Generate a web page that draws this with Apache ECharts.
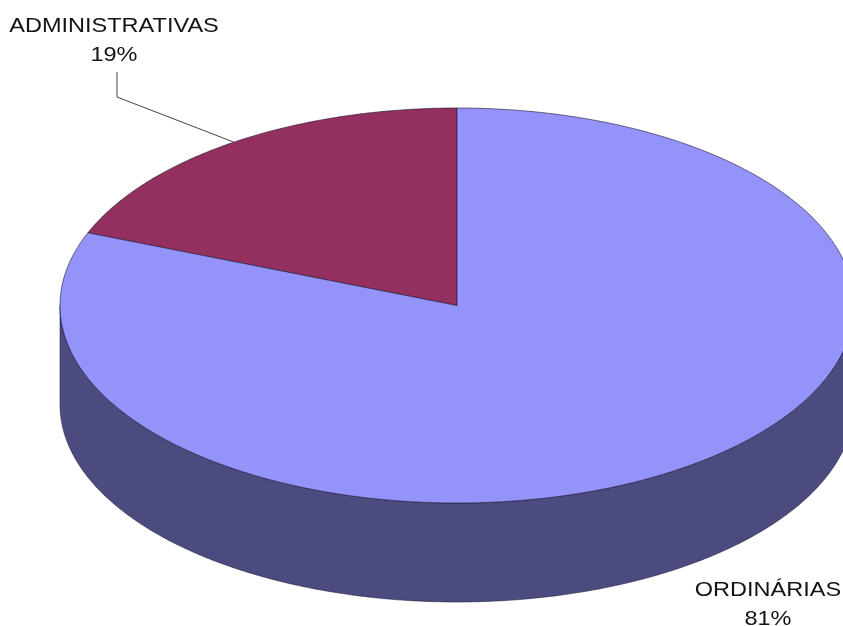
<!DOCTYPE html>
<html><head><meta charset="utf-8">
<script src="https://cdn.jsdelivr.net/npm/echarts@6/dist/echarts.min.js"></script>
<style>html,body{margin:0;padding:0;background:#fff}#c{width:843px;height:626px}</style>
</head><body><div id="c"></div>
<script>
// ---- data ----
const categories = ['ADMINISTRATIVAS', 'ORDINÁRIAS'];
const values = [19, 81];

// ---- style / layout ----
const topColors = ['#93305F', '#9393F9'];
const sideColors = ['#5A1D3B', '#4B4B7F'];
const L = {cx: 457, cy: 305.5, rx: 397, ry: 197.5, depth: 99, startAngle: 90};
const labelLayout = [
  {x: 114, y: 40.5, elbow: [[117, 97], [117, 72]]},
  {x: 768, y: 605, elbow: null}
];

const total = values.reduce((a, b) => a + b, 0);
function sliceAngles(i) {
  let s = 0;
  for (let k = 0; k < i; k++) s += values[k];
  const a0 = L.startAngle + s / total * 360;
  return [a0, a0 + values[i] / total * 360];
}
function pt(t, dy) {
  const r = t * Math.PI / 180;
  return [L.cx + L.rx * Math.cos(r), L.cy - L.ry * Math.sin(r) + (dy || 0)];
}
function arcPts(a0, a1, dy) {
  const n = Math.max(2, Math.ceil(Math.abs(a1 - a0) / 0.5));
  const out = [];
  for (let j = 0; j <= n; j++) out.push(pt(a0 + (a1 - a0) * j / n, dy));
  return out;
}

function renderItem(params, api) {
  const i = params.dataIndex;
  const [a0, a1] = sliceAngles(i);
  const children = [];
  // visible outer side: lower half of the ellipse (180..360 + 360k)
  for (let k = -1; k <= 1; k++) {
    const s = Math.max(a0, 180 + 360 * k), e = Math.min(a1, 360 + 360 * k);
    if (e > s) {
      const pts = arcPts(s, e, 0).concat(arcPts(e, s, L.depth));
      children.push({type: 'polygon', z2: 1, shape: {points: pts},
        style: {fill: sideColors[i], stroke: 'rgba(30,30,60,0.55)', lineWidth: 1}});
    }
  }
  // top face
  const topPts = [[L.cx, L.cy]].concat(arcPts(a0, a1, 0));
  children.push({type: 'polygon', z2: 10, shape: {points: topPts},
    style: {fill: topColors[i], stroke: 'rgba(30,20,50,0.6)', lineWidth: 1}});
  // label
  const lay = labelLayout[i];
  const pct = Math.round(api.value(0) / total * 100);
  children.push({type: 'text', z2: 20, x: lay.x, y: lay.y, scaleX: 1.12, scaleY: 1,
    style: {
    text: categories[i] + '\n' + pct + '%', x: 0, y: 0,
    align: 'center', verticalAlign: 'middle', fontSize: 21,
    fontFamily: 'Liberation Sans, Arial, sans-serif', fill: '#141414', lineHeight: 29}});
  if (lay.elbow) {
    const mid = pt((a0 + a1) / 2, 0);
    children.push({type: 'polyline', z2: 20, shape: {points: [mid].concat(lay.elbow)},
      style: {stroke: '#444', lineWidth: 1, fill: null}});
  }
  return {type: 'group', children: children};
}

const chart = echarts.init(document.getElementById('c'), null, {renderer: 'canvas'});
chart.setOption({
  animation: false,
  backgroundColor: '#fff',
  series: [{
    type: 'custom',
    coordinateSystem: 'none',
    renderItem: renderItem,
    data: values.map((v, i) => ({name: categories[i], value: [v]}))
  }]
});
</script></body></html>
